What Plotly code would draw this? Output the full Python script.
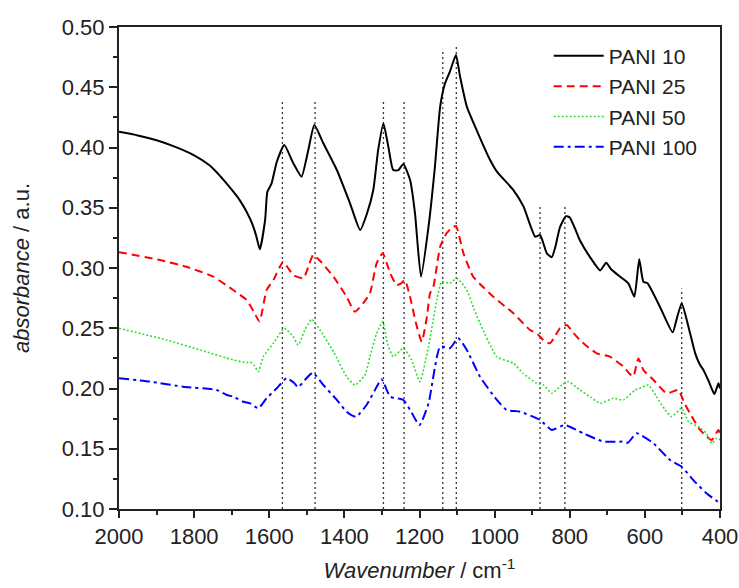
import plotly.graph_objects as go

# PANI 10 (black solid)
x10 = [2000,1950,1900,1850,1800,1760,1740,1720,1700,1680,1660,1645,1635,1625,1611,1605,1594,1580,1560,1536,1514,1496,1480,1456,1420,1385,1358,1340,1323,1310,1296,1283,1270,1256,1243,1225,1212,1196,1176,1159,1145,1132,1119,1103,1092,1074,1048,1012,994,950,923,892,879,861,848,838,826,810,800,785,773,746,719,703,690,666,644,628,615,604,593,560,526,515,502,484,466,453,444,430,415,404,400]
y10 = [0.413,0.410,0.406,0.4005,0.3935,0.3855,0.3795,0.3725,0.365,0.357,0.3465,0.3365,0.327,0.3155,0.340,0.3633,0.370,0.388,0.402,0.387,0.3758,0.398,0.4187,0.4035,0.3813,0.3537,0.3315,0.345,0.3647,0.398,0.420,0.4007,0.3813,0.3813,0.3863,0.373,0.3454,0.2928,0.3343,0.384,0.4339,0.4533,0.463,0.4768,0.4588,0.4339,0.4145,0.3896,0.380,0.3647,0.3509,0.326,0.3274,0.3122,0.309,0.318,0.334,0.343,0.342,0.332,0.323,0.309,0.298,0.3044,0.299,0.2928,0.2873,0.2762,0.3072,0.2886,0.2873,0.2679,0.2466,0.258,0.2707,0.2513,0.2292,0.2195,0.2154,0.206,0.1954,0.2043,0.200]

# PANI 25 (red dashed)
x25 = [2000,1980,1891,1820,1749,1696,1660,1640,1626,1607,1589,1563,1550,1536,1509,1495,1483,1465,1429,1394,1372,1350,1332,1314,1298,1278,1261,1250,1239,1225,1210,1194,1180,1172,1163,1145,1128,1115,1103,1083,1057,1030,1003,950,906,888,870,853,840,826,808,790,773,750,728,693,657,640,631,617,604,577,542,511,495,480,453,435,422,404,400]
y25 = [0.313,0.312,0.3066,0.301,0.2928,0.2817,0.2734,0.263,0.2555,0.2817,0.290,0.3052,0.300,0.2942,0.2914,0.302,0.3108,0.306,0.2928,0.276,0.2637,0.2707,0.279,0.304,0.3122,0.2956,0.2859,0.287,0.290,0.276,0.255,0.2388,0.260,0.279,0.2845,0.3177,0.3288,0.333,0.3349,0.3122,0.2928,0.284,0.276,0.2624,0.2486,0.2458,0.240,0.2375,0.243,0.250,0.2527,0.246,0.2402,0.234,0.2292,0.2264,0.2181,0.212,0.2098,0.225,0.2154,0.2071,0.196,0.1988,0.188,0.1794,0.1656,0.160,0.1573,0.1656,0.162]

# PANI 50 (green dotted)
x50 = [2000,1873,1784,1696,1660,1651,1640,1629,1616,1589,1560,1536,1523,1505,1487,1465,1429,1394,1372,1345,1332,1315,1298,1285,1270,1243,1221,1199,1176,1154,1141,1119,1101,1083,1070,1055,1039,994,950,924,888,870,848,821,804,773,745,719,684,657,626,615,591,569,546,529,502,484,458,436,422,409,400]
y50 = [0.250,0.2402,0.232,0.2237,0.2215,0.222,0.219,0.214,0.2264,0.2375,0.250,0.243,0.2361,0.2486,0.2574,0.2486,0.2305,0.2098,0.2029,0.2112,0.2264,0.245,0.2555,0.237,0.2264,0.2334,0.2237,0.2057,0.2347,0.2734,0.2886,0.2873,0.2914,0.2859,0.279,0.266,0.2541,0.2264,0.2209,0.2126,0.2043,0.203,0.196,0.2029,0.2057,0.1988,0.193,0.1877,0.1919,0.1905,0.1988,0.200,0.2029,0.1932,0.1822,0.1766,0.1836,0.1725,0.1683,0.1628,0.1545,0.1587,0.1575]

# PANI 100 (blue dash-dot)
x100 = [2000,1917,1829,1740,1713,1696,1669,1651,1629,1607,1580,1554,1535,1523,1505,1484,1456,1420,1394,1369,1341,1320,1301,1278,1243,1225,1200,1176,1145,1119,1097,1074,1039,994,968,932,879,848,813,764,710,657,645,622,577,533,502,471,436,400]
y100 = [0.2085,0.2057,0.2015,0.1988,0.1946,0.1932,0.189,0.1877,0.1836,0.1919,0.2002,0.2085,0.205,0.201,0.2071,0.2131,0.2029,0.1905,0.1807,0.1766,0.1863,0.198,0.2077,0.1932,0.1905,0.1822,0.1697,0.1877,0.2347,0.2334,0.2417,0.232,0.2098,0.1905,0.1822,0.1807,0.1739,0.1656,0.1697,0.1628,0.1559,0.1559,0.155,0.1628,0.1545,0.1406,0.1351,0.124,0.113,0.1047]

# vertical reference lines (band positions) and their top ends
vline_x = [1565, 1478, 1296, 1241, 1138, 1102, 879, 813, 502]
vline_top = [0.440, 0.440, 0.438, 0.438, 0.482, 0.484, 0.352, 0.352, 0.283]
y_bottom = 0.10

series_names = ["PANI 10", "PANI 25", "PANI 50", "PANI 100"]
xs = [x10, x25, x50, x100]
ys = [y10, y25, y50, y100]
colors = ["#000000", "#ff0000", "#33dd33", "#0000ff"]
dashes = ["solid", "8px,5px", "2px,2px", "10px,4px,3px,4px"]
widths = [2, 2, 1.6, 2]

fig = go.Figure()

for vx, vt in zip(vline_x, vline_top):
    fig.add_trace(go.Scatter(x=[vx, vx], y=[y_bottom, vt], mode="lines",
                             line=dict(color="#333333", width=1.3, dash="2px,3px"),
                             showlegend=False, hoverinfo="skip"))

for name, xx, yy, c, d, w in zip(series_names, xs, ys, colors, dashes, widths):
    fig.add_trace(go.Scatter(x=xx, y=yy, mode="lines", name=name,
                             line=dict(color=c, dash=d, width=w, shape="spline", smoothing=0.5)))

font_family = "Liberation Sans, Arial, sans-serif"

fig.update_layout(
    width=739, height=588,
    margin=dict(l=119, r=19, t=27, b=79),
    paper_bgcolor="white", plot_bgcolor="white",
    font=dict(family=font_family, size=22, color="#222222"),
    showlegend=True,
    legend=dict(x=0.715, y=0.982, xanchor="left", yanchor="top",
                bgcolor="rgba(0,0,0,0)", font=dict(size=21, color="#222222"),
                itemwidth=50, tracegroupgap=0),
)

fig.update_xaxes(
    range=[2000, 400], autorange=False, automargin=False,
    tickmode="array", tickvals=[2000,1800,1600,1400,1200,1000,800,600,400],
    ticks="outside", ticklen=7, tickwidth=1.5, tickcolor="#222222",
    minor=dict(tickmode="array", tickvals=[1900,1700,1500,1300,1100,900,700,500],
               ticks="outside", ticklen=4, tickwidth=1.5, tickcolor="#222222"),
    showline=True, linecolor="#222222", linewidth=2, mirror=True,
    showgrid=False, zeroline=False,
    tickfont=dict(size=22),
    title=dict(text="<i>Wavenumber</i> / cm<sup>-1</sup>", font=dict(size=22), standoff=14),
)
fig.update_yaxes(
    range=[0.10, 0.50], autorange=False, automargin=False,
    tickmode="array", tickvals=[0.10,0.15,0.20,0.25,0.30,0.35,0.40,0.45,0.50],
    ticktext=["0.10","0.15","0.20","0.25","0.30","0.35","0.40","0.45","0.50"],
    ticks="outside", ticklen=8, tickwidth=1.5, tickcolor="#222222",
    minor=dict(tickmode="array", tickvals=[0.125,0.175,0.225,0.275,0.325,0.375,0.425,0.475],
               ticks="outside", ticklen=4, tickwidth=1.5, tickcolor="#222222"),
    showline=True, linecolor="#222222", linewidth=2, mirror=True,
    showgrid=False, zeroline=False,
    tickfont=dict(size=22),
    title=dict(text="<i>absorbance</i> / a.u.", font=dict(size=22), standoff=26),
)

fig.write_html("out.html", config={"displayModeBar": False},
               post_script="document.body.style.margin='0';document.body.style.padding='0';")
